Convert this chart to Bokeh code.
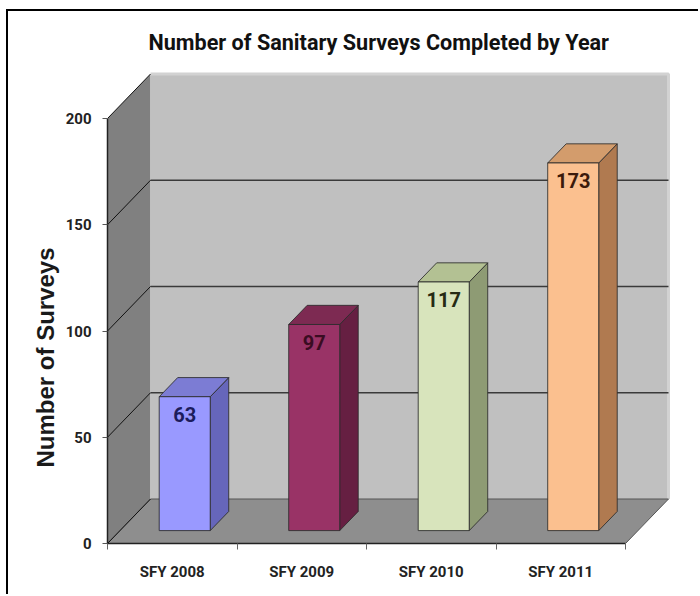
from bokeh.plotting import figure
from bokeh.models import Range1d, FixedTicker, ColumnDataSource, Title
from bokeh.embed import file_html
from bokeh.resources import INLINE

# ---- data -------------------------------------------------------------
categories = ["SFY 2008", "SFY 2009", "SFY 2010", "SFY 2011"]
surveys = [63, 97, 117, 173]
y_ticks = [0, 50, 100, 150, 200]

front_colors = ["#9999FF", "#993366", "#D8E4BC", "#FBC08F"]
side_colors = ["#6666BB", "#661F42", "#8E9B74", "#B07A50"]
top_colors = ["#7C7CD4", "#7D2A52", "#B3C193", "#D39C6C"]
label_colors = ["#1C1C5C", "#3A0C22", "#262B14", "#3B1A0B"]

# ---- page / pseudo-3D projection --------------------------------------
W, H = 692, 585                      # canvas, inside the black page frame
LEFT, RIGHT, TOP, BOTTOM = 99, 10, 56, 53
PX_X = 129.5            # pixels per category slot
PX_Y = 2.125            # pixels per survey
DEPTH_X = 43 / PX_X     # full floor depth, x component
DEPTH_Y = 44.5 / PX_Y   # full floor depth, y component
BAR_W = 0.394
F_FRONT, F_BACK = 0.29, 0.72

x_lo, x_hi = -0.5, len(categories) - 0.5
y_max = y_ticks[-1]

p = figure(
    width=W, height=H,
    x_range=Range1d(x_lo, x_lo + (W - LEFT - RIGHT) / PX_X),
    y_range=Range1d(0, (H - TOP - BOTTOM) / PX_Y),
    output_backend="svg", toolbar_location=None,
    min_border_left=LEFT, min_border_right=RIGHT,
    min_border_top=TOP, min_border_bottom=BOTTOM,
    background_fill_color="white", border_fill_color="white",
    outline_line_color=None,
)
p.styles = {
    "margin-left": "6px", "margin-top": "9px",
    "border-left": "2px solid black", "border-top": "2px solid black",
}
p.xgrid.visible = False
p.ygrid.visible = False

# title
p.title.text = "Number of Sanitary Surveys Completed by Year"
p.title.text_font = "Roboto"
p.title.text_font_style = "bold"
p.title.text_font_size = "21.6px"
p.title.text_color = "#111111"
p.title.align = "left"
p.title.offset = 41
p.title.standoff = 25

# walls and floor
dx, dy = DEPTH_X, DEPTH_Y
p.patch([x_lo, x_lo + dx, x_lo + dx, x_lo], [0, dy, y_max + dy, y_max],
        fill_color="#808080", line_color=None)
p.patch([x_lo + dx, x_hi + dx, x_hi + dx, x_lo + dx],
        [dy, dy, y_max + dy, y_max + dy], fill_color="#C0C0C0", line_color=None)
p.line([x_lo + dx, x_hi + dx, x_hi + dx], [y_max + dy, y_max + dy, dy],
       line_color="#D2D2D2", line_width=3)
p.patch([x_lo, x_hi, x_hi + dx, x_lo + dx], [0, 0, dy, dy],
        fill_color="#8E8E8E", line_color="#555555", line_width=1)

# gridlines: back wall and side wall
grid_vals = y_ticks[1:-1]
p.segment(x0=[x_lo + dx] * len(grid_vals), y0=[v + dy for v in grid_vals],
          x1=[x_hi + dx] * len(grid_vals), y1=[v + dy for v in grid_vals],
          line_color="#3A3A3A", line_width=1.5)
p.segment(x0=[x_lo] * len(y_ticks), y0=y_ticks,
          x1=[x_lo + dx] * len(y_ticks), y1=[v + dy for v in y_ticks],
          line_color="#111111", line_width=1)

# bars
fx, fy = F_FRONT * dx, F_FRONT * dy
bx, by = (F_BACK - F_FRONT) * dx, (F_BACK - F_FRONT) * dy
front_xs, front_ys, side_xs, side_ys, top_xs, top_ys = [], [], [], [], [], []
for i, v in enumerate(surveys):
    l = i - BAR_W / 2 + fx
    r = i + BAR_W / 2 + fx
    b = fy
    t = v + fy
    front_xs.append([l, r, r, l]); front_ys.append([b, b, t, t])
    side_xs.append([r, r + bx, r + bx, r]); side_ys.append([b, b + by, t + by, t])
    top_xs.append([l, r, r + bx, l + bx]); top_ys.append([t, t, t + by, t + by])

for xs, ys, cols in ((side_xs, side_ys, side_colors),
                     (top_xs, top_ys, top_colors),
                     (front_xs, front_ys, front_colors)):
    src = ColumnDataSource(dict(xs=xs, ys=ys, c=cols))
    p.patches("xs", "ys", source=src, fill_color="c",
              line_color="#2B2B2B", line_width=1, line_alpha=0.85)

lab = ColumnDataSource(dict(
    x=[i + fx for i in range(len(surveys))],
    y=[v + fy for v in surveys],
    t=[str(v) for v in surveys],
    c=label_colors,
))
p.text("x", "y", text="t", source=lab, text_color="c",
       text_align="center", text_baseline="middle", y_offset=18,
       text_font={"value": "Roboto"}, text_font_style="bold",
       text_font_size="20px")

# axes
tick_font = "Roboto"
xa = p.xaxis[0]
xa.ticker = FixedTicker(ticks=list(range(len(categories))),
                        minor_ticks=[x_lo + k for k in range(len(categories) + 1)])
xa.major_label_overrides = {i: c for i, c in enumerate(categories)}
xa.bounds = (x_lo, x_hi)
xa.axis_line_color = "#222222"
xa.axis_line_width = 1.5
xa.major_tick_in = 0
xa.major_tick_out = 0
xa.minor_tick_in = 0
xa.minor_tick_out = 6
xa.minor_tick_line_color = "#666666"
xa.major_label_standoff = 13
xa.major_label_text_font = tick_font
xa.major_label_text_font_style = "bold"
xa.major_label_text_font_size = "15px"
xa.major_label_text_color = "#222222"

ya = p.yaxis[0]
ya.ticker = FixedTicker(ticks=y_ticks)
ya.bounds = (0, y_max)
ya.axis_line_color = "#222222"
ya.axis_line_width = 1.5
ya.major_tick_in = 0
ya.major_tick_out = 5
ya.major_tick_line_color = "#555555"
ya.minor_tick_line_color = None
ya.major_label_standoff = 11
ya.major_label_text_font = tick_font
ya.major_label_text_font_style = "bold"
ya.major_label_text_font_size = "15px"
ya.major_label_text_color = "#222222"

# vertical label beside the value axis
p.add_layout(Title(text="Number of Surveys", align="left", offset=76,
                   standoff=8, text_font="Liberation Sans",
                   text_font_style="bold", text_font_size="24px",
                   text_color="#1A1A1A"), "left")

open("out.html", "w").write(file_html(p, INLINE))
